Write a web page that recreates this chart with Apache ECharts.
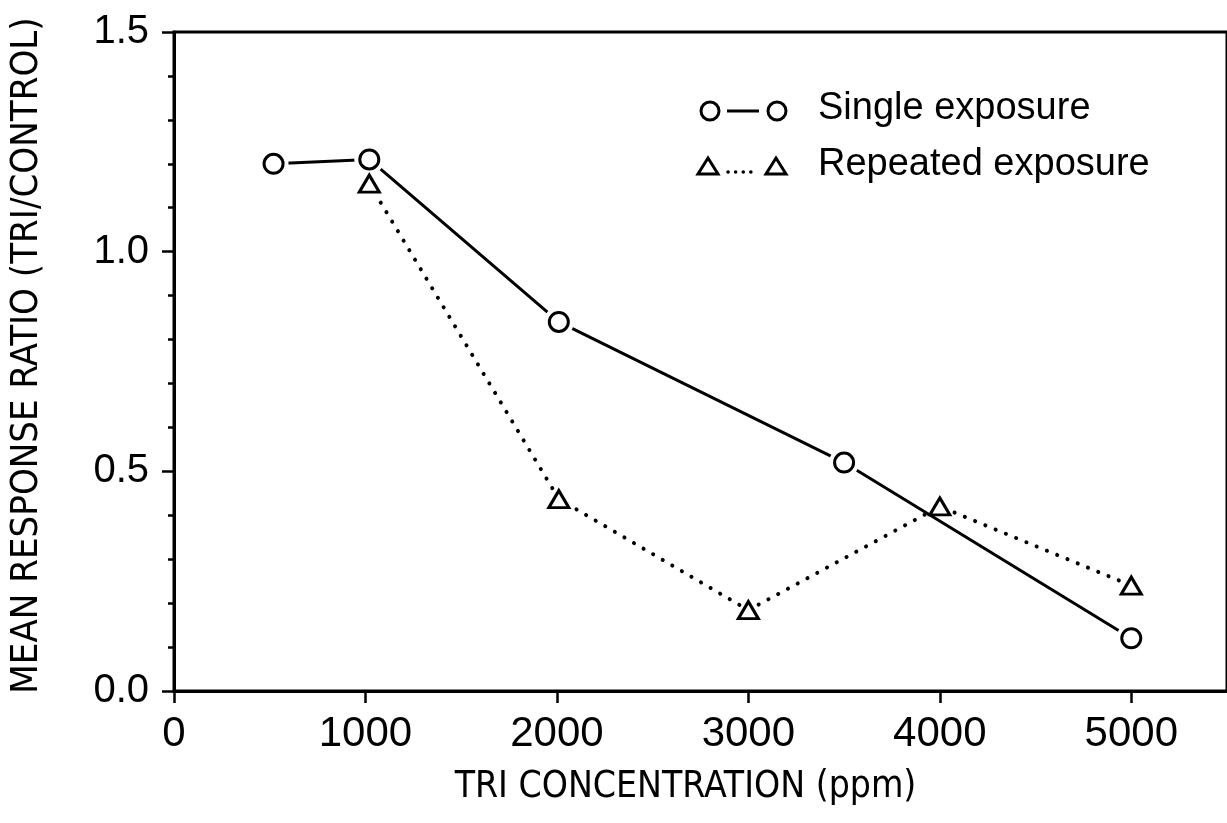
<!DOCTYPE html>
<html>
<head>
<meta charset="utf-8">
<script src="https://cdn.jsdelivr.net/npm/echarts@6/dist/echarts.min.js"></script>
<style>
html,body{margin:0;padding:0;background:#fff;}
#chart{width:1227px;height:823px;}
</style>
</head>
<body>
<div id="chart"></div>
<script>
// Data
var singleX = [520, 1020, 2010, 3500, 5000];
var singleY = [1.20, 1.21, 0.84, 0.52, 0.12];
var repeatedX = [1020, 2010, 3000, 4000, 5000];
var repeatedY = [1.155, 0.437, 0.184, 0.42, 0.24];
var seriesNames = ['Single exposure', 'Repeated exposure'];
var xAxisTitle = 'TRI CONCENTRATION (ppm)';
var yAxisTitle = 'MEAN RESPONSE RATIO (TRI/CONTROL)';

function pairs(xs, ys) { return xs.map(function (x, i) { return [x, ys[i]]; }); }
var singleData = pairs(singleX, singleY);
var repeatedData = pairs(repeatedX, repeatedY);

var FONT = "'Liberation Sans', Arial, sans-serif";
var NARROW = "'Liberation Sans Narrow', 'DejaVu Sans Condensed', 'Liberation Sans', sans-serif";
var K = '#000';

var chart = echarts.init(document.getElementById('chart'), null, {renderer: 'canvas'});

chart.setOption({
  backgroundColor: '#fff',
  animation: false,
  grid: {left: 170, right: -5, top: 32, bottom: 132, show: true, borderColor: K, borderWidth: 3, backgroundColor: 'transparent'},
  xAxis: {
    type: 'value', min: 0, max: 5500, interval: 1000,
    name: xAxisTitle, nameLocation: 'middle', nameGap: 78,
    nameTextStyle: {fontFamily: NARROW, fontSize: 37, color: K, padding: [0, 30, 0, 0]},
    axisLine: {show: true, lineStyle: {color: K, width: 3}},
    axisTick: {show: true, length: 12, lineStyle: {color: K, width: 2.5}},
    axisLabel: {show: true, margin: 22, fontFamily: FONT, fontSize: 42, color: K, showMaxLabel: false,
      formatter: function (v) { return v % 1000 === 0 ? String(v) : ''; }},
    splitLine: {show: false}
  },
  yAxis: {
    type: 'value', min: 0, max: 1.5, interval: 0.5,
    name: yAxisTitle, nameLocation: 'middle', nameGap: 128, nameRotate: 90,
    nameTextStyle: {fontFamily: NARROW, fontSize: 38, color: K, padding: [0, 0, 0, 12]},
    axisLine: {show: true, lineStyle: {color: K, width: 3}},
    axisTick: {show: true, length: 12, lineStyle: {color: K, width: 2.5}},
    minorTick: {show: true, splitNumber: 5, length: 6, lineStyle: {color: K, width: 2.5}},
    axisLabel: {show: true, margin: 25, fontFamily: FONT, fontSize: 40, color: K,
      formatter: function (v) { return v.toFixed(1); }},
    splitLine: {show: false}
  },
  series: [
    {name: seriesNames[1], type: 'line', data: repeatedData, z: 1, symbol: 'none', silent: true,
      lineStyle: {color: K, width: 4, type: [0.1, 11], cap: 'round'}},
    {name: seriesNames[1] + ' halo', type: 'scatter', data: repeatedData, z: 2, symbol: 'triangle', symbolSize: [32, 30], silent: true,
      itemStyle: {color: '#fff', opacity: 1}},
    {name: seriesNames[0], type: 'line', data: singleData, z: 3, symbol: 'none', silent: true,
      lineStyle: {color: K, width: 3, type: 'solid'}},
    {name: seriesNames[0] + ' halo', type: 'scatter', data: singleData, z: 4, symbol: 'circle', symbolSize: 30, silent: true,
      itemStyle: {color: '#fff', opacity: 1}},
    {name: seriesNames[1] + ' marker', type: 'scatter', data: repeatedData, z: 5, symbol: 'triangle', symbolSize: [20, 17], silent: true,
      itemStyle: {color: '#fff', borderColor: K, borderWidth: 3, opacity: 1}},
    {name: seriesNames[0] + ' marker', type: 'scatter', data: singleData, z: 5, symbol: 'circle', symbolSize: 19, silent: true,
      itemStyle: {color: '#fff', borderColor: K, borderWidth: 3, opacity: 1}}
  ],
  graphic: [
    // Legend row 1
    {type: 'circle', shape: {cx: 710, cy: 111, r: 9}, style: {fill: '#fff', stroke: K, lineWidth: 3}},
    {type: 'line', shape: {x1: 727, y1: 111, x2: 759, y2: 111}, style: {stroke: K, lineWidth: 3}},
    {type: 'circle', shape: {cx: 777, cy: 111, r: 9}, style: {fill: '#fff', stroke: K, lineWidth: 3}},
    {type: 'text', left: 818, top: 90, style: {text: seriesNames[0], font: '38px ' + FONT, fill: K}},
    // Legend row 2
    {type: 'polygon', shape: {points: [[708, 158], [718, 174], [698, 174]]}, style: {fill: '#fff', stroke: K, lineWidth: 3}},
    {type: 'line', shape: {x1: 728, y1: 172, x2: 758, y2: 172}, style: {stroke: K, lineWidth: 3.5, lineDash: [0.1, 7.5], lineCap: 'round'}},
    {type: 'polygon', shape: {points: [[776, 158], [786, 174], [766, 174]]}, style: {fill: '#fff', stroke: K, lineWidth: 3}},
    {type: 'text', left: 818, top: 146, style: {text: seriesNames[1], font: '38px ' + FONT, fill: K}}
  ]
});
</script>
</body>
</html>
